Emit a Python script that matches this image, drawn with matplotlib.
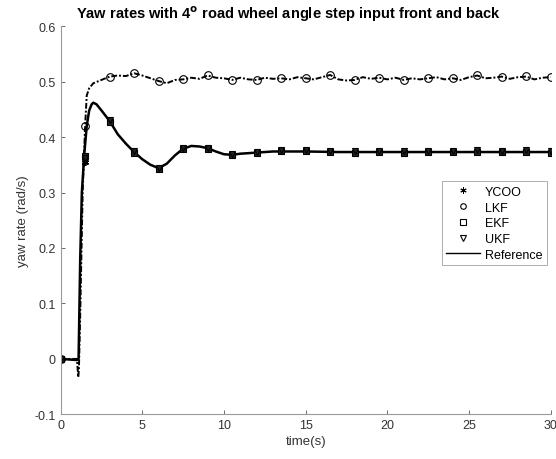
import numpy as np
import matplotlib
matplotlib.use("Agg")
import matplotlib.pyplot as plt

plt.rcParams['font.family'] = ['Liberation Sans', 'DejaVu Sans']

# reference yaw rate (solid line)
ref_t = [0, 1.0, 1.1, 1.2, 1.3, 1.45, 1.6, 1.75, 1.9, 2.0, 2.2, 2.5, 3.0, 3.5, 4.0, 4.5,
         5.0, 5.5, 6.0, 6.5, 7.0, 7.5, 8.0, 8.5, 9.0, 9.5, 10.0, 10.5, 11.0, 12.0,
         13.0, 14.0, 15.0, 17.0, 20.0, 23.0, 26.0, 30.0]
ref_v = [0, -0.002, 0.0, 0.18, 0.30, 0.37, 0.42, 0.448, 0.459, 0.462, 0.459, 0.448, 0.429,
         0.405, 0.388, 0.373, 0.360, 0.350, 0.344, 0.352, 0.367, 0.379, 0.384, 0.383,
         0.380, 0.374, 0.369, 0.368, 0.370, 0.372, 0.374, 0.374, 0.374, 0.373, 0.373,
         0.373, 0.373, 0.373]

# LKF estimate (dashed, noisy)
lkf_t = [0, 1.0, 1.08, 1.12, 1.2, 1.35, 1.5, 1.6, 1.75,
         2.0, 2.5, 3.0, 3.5, 4.0, 4.5, 5.0, 5.5, 6.0, 6.5, 7.0, 7.5, 8.0, 8.5, 9.0, 9.5,
         10.0, 10.5, 11.0, 11.5, 12.0, 12.5, 13.0, 13.5, 14.0, 14.5, 15.0, 15.5, 16.0,
         16.5, 17.0, 17.5, 18.0, 18.5, 19.0, 19.5, 20.0, 20.5, 21.0, 21.5, 22.0, 22.5,
         23.0, 23.5, 24.0, 24.5, 25.0, 25.5, 26.0, 26.5, 27.0, 27.5, 28.0, 28.5, 29.0,
         29.5, 30.0]
lkf_v = [0, 0, -0.033, -0.02, 0.08, 0.30, 0.42, 0.475, 0.488,
         0.497, 0.503, 0.509, 0.511, 0.510, 0.515, 0.511, 0.506, 0.501, 0.497, 0.503,
         0.504, 0.507, 0.505, 0.511, 0.507, 0.506, 0.503, 0.507, 0.504, 0.503, 0.507,
         0.505, 0.506, 0.504, 0.508, 0.506, 0.504, 0.508, 0.512, 0.504, 0.502, 0.503,
         0.508, 0.505, 0.507, 0.504, 0.507, 0.503, 0.506, 0.504, 0.506, 0.508, 0.504,
         0.506, 0.503, 0.508, 0.511, 0.506, 0.507, 0.509, 0.505, 0.508, 0.509, 0.504,
         0.507, 0.508]

# marker samples every 1.5 s
mark_t = [0, 1.5, 3, 4.5, 6, 7.5, 9, 10.5, 12, 13.5, 15, 16.5, 18, 19.5, 21, 22.5,
          24, 25.5, 27, 28.5, 30]
ycoo_m = [0, 0.355, 0.429, 0.373, 0.344, 0.380, 0.380, 0.369, 0.372, 0.375, 0.375,
          0.374, 0.373, 0.373, 0.373, 0.373, 0.373, 0.374, 0.373, 0.374, 0.373]
lkf_m = [0, 0.42, 0.509, 0.516, 0.501, 0.504, 0.512, 0.503, 0.503, 0.506, 0.506,
         0.512, 0.503, 0.507, 0.503, 0.506, 0.506, 0.512, 0.509, 0.510, 0.509]
ekf_m = [0, 0.366, 0.428, 0.372, 0.343, 0.379, 0.379, 0.368, 0.372, 0.374, 0.374,
         0.373, 0.372, 0.373, 0.372, 0.373, 0.373, 0.373, 0.373, 0.373, 0.372]
ukf_m = [0, 0.362, 0.430, 0.374, 0.345, 0.381, 0.381, 0.370, 0.373, 0.377, 0.376,
         0.375, 0.374, 0.374, 0.374, 0.374, 0.374, 0.377, 0.374, 0.376, 0.374]

fig = plt.figure(figsize=(5.56, 4.6), dpi=100)
ax = fig.add_axes([0.109, 0.097, 0.8815, 0.844])

ax.plot(lkf_t, lkf_v, color='black', linestyle=(0, (3, 1, 1, 1)), linewidth=1.4)
ax.plot(ref_t, ref_v, color='black', linewidth=1.8)

ms = 5
ax.plot(mark_t, ycoo_m, linestyle='none', marker=(6, 2, 0), color='black',
        markersize=ms, markeredgewidth=1.2, label='YCOO')
ax.plot(mark_t, lkf_m, linestyle='none', marker='o', color='black',
        markerfacecolor='none', markersize=ms + 0.5, markeredgewidth=0.8, label='LKF')
ax.plot(mark_t, ekf_m, linestyle='none', marker='s', color='black',
        markerfacecolor='#222222', markersize=ms - 1, markeredgewidth=0.8, label='EKF')
ax.plot(mark_t, ukf_m, linestyle='none', marker='v', color='black',
        markerfacecolor='#222222', markersize=ms, markeredgewidth=0.8, label='UKF')
ax.plot([], [], color='black', linewidth=1.0, label='Reference')

ax.set_xlim(0, 30)
ax.set_ylim(-0.1, 0.6)
ax.set_xticks([0, 5, 10, 15, 20, 25, 30])
ax.set_yticks([-0.1, 0, 0.1, 0.2, 0.3, 0.4, 0.5, 0.6])
ax.set_yticklabels(['-0.1', '0', '0.1', '0.2', '0.3', '0.4', '0.5', '0.6'])
ax.spines['top'].set_visible(False)
ax.spines['right'].set_visible(False)
for s in ['left', 'bottom']:
    ax.spines[s].set_color('#999999')
    ax.spines[s].set_linewidth(0.8)
ax.tick_params(direction='in', length=3, width=0.6, color='#555555',
               labelsize=9, labelcolor='#333333')

ax.set_xlabel('time(s)', fontsize=9.5, color='#333333', labelpad=3)
ax.set_ylabel('yaw rate (rad/s)', fontsize=9.5, color='#333333', labelpad=4)
ax.set_title(r'Yaw rates with 4$^{\mathbf{o}}$ road wheel angle step input front and back',
             fontsize=10.5, fontweight='bold', x=0.464, pad=6)

leg = ax.legend(loc='upper left', bbox_to_anchor=(0.778, 0.60), fontsize=9,
                frameon=True, fancybox=False, edgecolor='#888888',
                handlelength=2.7, handletextpad=0.4, borderpad=0.35, labelspacing=0.3,
                borderaxespad=0)
leg.get_frame().set_linewidth(0.6)
leg.legend_handles[0].set_markeredgewidth(0.7)
leg.legend_handles[0].set_markersize(4.5)
for h in leg.legend_handles[1:4]:
    h.set_markerfacecolor('none')
    h.set_markersize(4)

fig.savefig('out.png', dpi=100)
